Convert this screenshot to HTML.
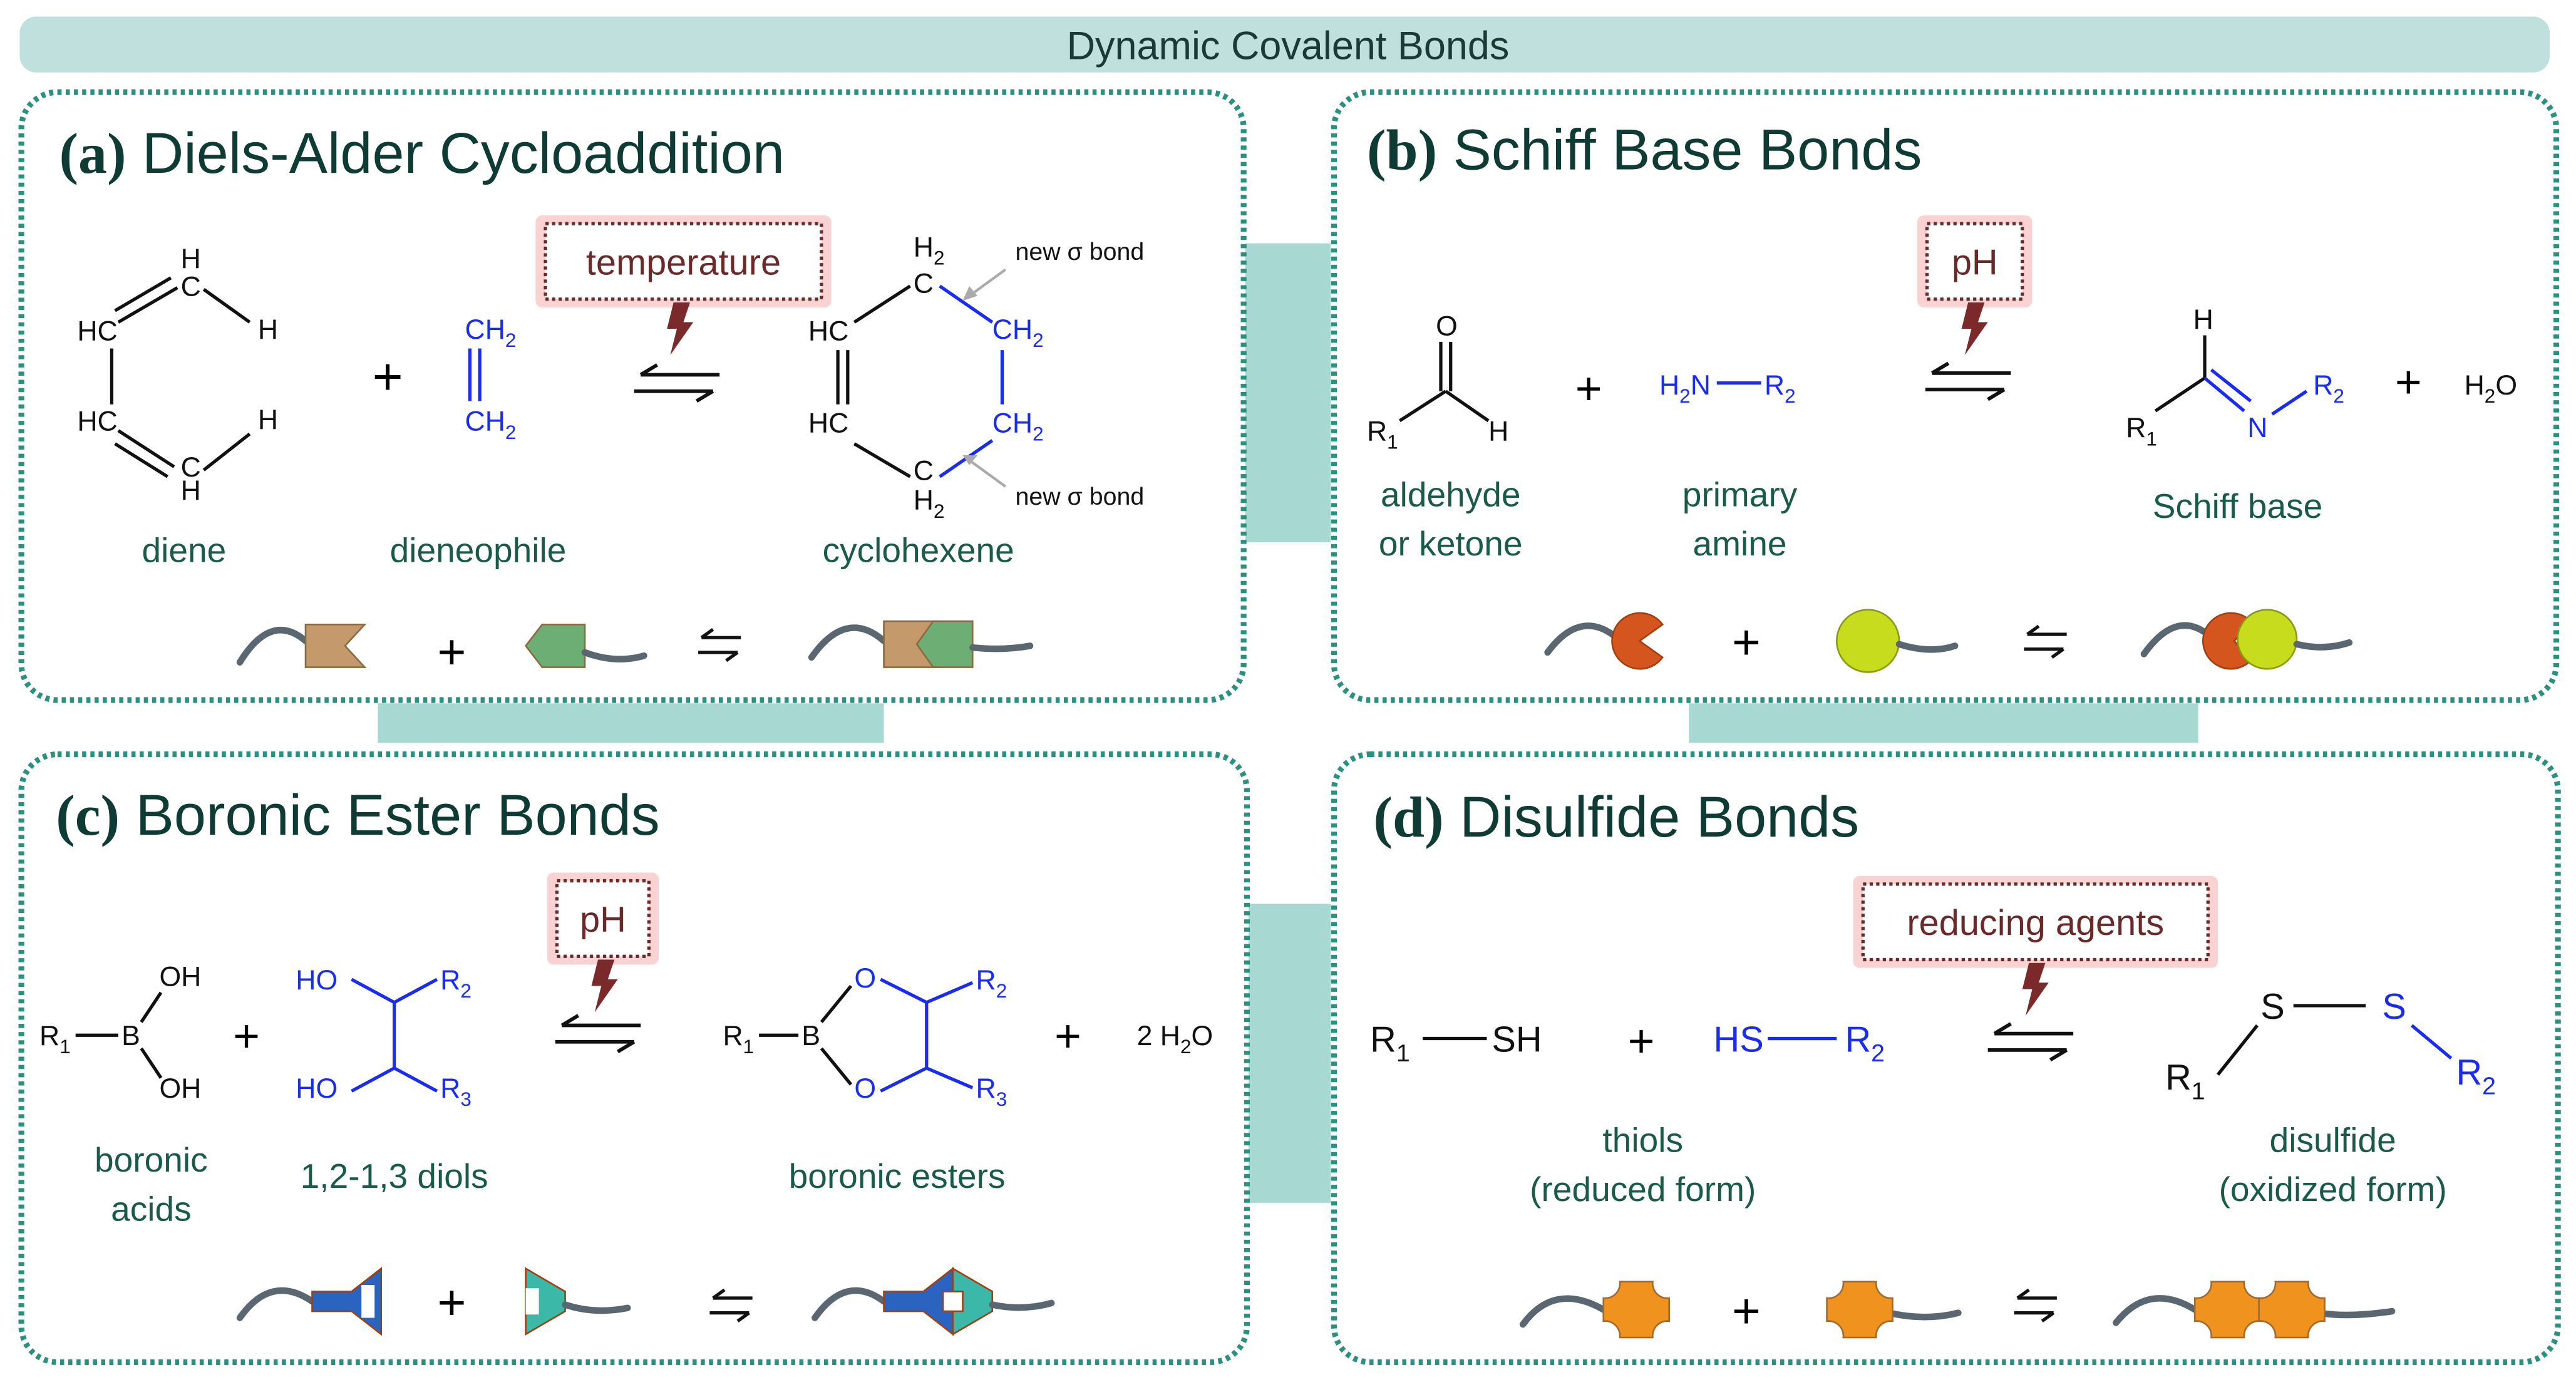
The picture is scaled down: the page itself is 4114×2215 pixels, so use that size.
<!DOCTYPE html>
<html><head><meta charset="utf-8"><style>
html,body{margin:0;padding:0;background:#fff;}
svg{display:block;}
text{font-family:"Liberation Sans",sans-serif;}
.lab{fill:#1a5a48;font-size:21px;text-anchor:middle;}
.ttl{fill:#0e3b33;font-size:35px;}
.ch{font-size:17px;fill:#111;}
.bl{fill:#1a2cf0;}
.bk{stroke:#111;stroke-width:2;fill:none;}
.bb{stroke:#1a2cf0;stroke-width:2;fill:none;}
.pan{fill:#fff;stroke:#2a9080;stroke-width:3.5;stroke-dasharray:2.5 2.5;}
.bar{fill:#a8d8d2;}
.cond{fill:#fff;stroke:#6b2a2a;stroke-width:2;stroke-dasharray:2 2;}
.glow{fill:#f9d3d3;}
.ct{fill:#6b2a2a;font-size:22px;text-anchor:middle;}
.wave{stroke:#5a6670;stroke-width:4;fill:none;stroke-linecap:round;}
.cr{fill:#f0921e;stroke:#a06a30;}
</style></head><body>
<svg width="4114" height="2215" viewBox="0 0 1568 844" xmlns="http://www.w3.org/2000/svg">
<defs>
<g id="eq"><path d="M4 4 H52 M4 4 l10 -6 M0 14 H48 M48 14 l-10 6" stroke="#111" stroke-width="2.2" fill="none"/></g>
<g id="eqs"><path d="M2 0 H26 M2 0 l7 -5 M0 9 H24 M24 9 l-7 5" stroke="#111" stroke-width="2" fill="none"/></g>
<path id="bolt" d="M0 0 L10 0 L6 12 L12 12 L-2 32 L2 16 L-4 16 Z" fill="#7a2a2a"/>
<path id="cross" d="M-10 -17 H10 A9 9 0 0 0 20 -7 V7 A9 9 0 0 0 10 17 H-10 A9 9 0 0 0 -20 7 V-7 A9 9 0 0 0 -10 -17 Z"/>
</defs>
<rect x="12" y="10" width="1540" height="34" rx="10" fill="#bfe0dc"/>
<text x="784" y="36" text-anchor="middle" font-size="24" fill="#1a3a35">Dynamic Covalent Bonds</text>

<rect class="bar" x="758" y="148" width="52" height="182"/>
<rect class="bar" x="760" y="550" width="50" height="182"/>
<rect class="bar" x="230" y="428" width="308" height="24"/>
<rect class="bar" x="1028" y="428" width="310" height="24"/>

<rect class="pan" x="13" y="56" width="744" height="370" rx="22"/>
<rect class="pan" x="812" y="56" width="744" height="370" rx="22"/>
<rect class="pan" x="13" y="459" width="746" height="370" rx="22"/>
<rect class="pan" x="812" y="459" width="745" height="370" rx="22"/>

<!-- (a) -->
<text x="36" y="105" class="ttl"><tspan font-family="Liberation Serif" font-weight="bold">(a)</tspan> Diels-Alder Cycloaddition</text>
<g class="ch">
<text x="110" y="163">H</text><text x="110" y="180">C</text>
<text x="47" y="207">HC</text><text x="157" y="206">H</text>
<text x="47" y="262">HC</text><text x="157" y="261">H</text>
<text x="110" y="290">C</text><text x="110" y="304">H</text>
</g>
<path class="bk" d="M108 175 L72 196 M104 169 L70 189 M124 176 L152 196 M68 212 V246 M72 262 L106 284 M70 270 L102 290 M124 286 L152 264"/>
<text x="236" y="240" font-size="32" text-anchor="middle">+</text>
<text x="283" y="206" class="ch bl">CH<tspan font-size="12" dy="5">2</tspan></text>
<text x="283" y="262" class="ch bl">CH<tspan font-size="12" dy="5">2</tspan></text>
<path class="bb" d="M286 212 V244 M292 212 V244"/>
<rect class="glow" x="326" y="131" width="180" height="56" rx="4"/>
<rect class="cond" x="332" y="136" width="168" height="46"/>
<text x="416" y="167" class="ct">temperature</text>
<use href="#bolt" x="410" y="184"/>
<use href="#eq" x="386" y="224"/>
<g class="ch">
<text x="556" y="156">H<tspan font-size="12" dy="5">2</tspan></text>
<text x="556" y="178">C</text>
<text x="492" y="207">HC</text>
<text x="492" y="263">HC</text>
<text x="556" y="292">C</text>
<text x="556" y="310">H<tspan font-size="12" dy="5">2</tspan></text>
<text x="604" y="206" class="bl">CH<tspan font-size="12" dy="5">2</tspan></text>
<text x="604" y="263" class="bl">CH<tspan font-size="12" dy="5">2</tspan></text>
<text x="618" y="158" font-size="15">new σ bond</text>
<text x="618" y="307" font-size="15">new σ bond</text>
</g>
<path class="bk" d="M554 174 L520 196 M510 213 V246 M516 213 V246 M520 270 L554 290"/>
<path class="bb" d="M572 174 L604 196 M610 213 V246 M572 290 L604 268"/>
<path d="M612 164 L590 180 M612 296 L590 280" stroke="#aaa" stroke-width="1.6"/>
<path d="M586 183 l4 -9 l5 6 Z M586 277 l9 0 l-5 6 Z" fill="#aaa"/>
<text x="112" y="342" class="lab">diene</text>
<text x="291" y="342" class="lab">dieneophile</text>
<text x="559" y="342" class="lab">cyclohexene</text>
<path class="wave" d="M146 403 Q165 372 186 390"/>
<path d="M186 380 H222 L210 393 L222 406 H186 Z" fill="#c49a6c" stroke="#8a6a40"/>
<text x="275" y="407" font-size="30" text-anchor="middle">+</text>
<path d="M320 393 L330 380 H356 V406 H330 Z" fill="#6cae74" stroke="#8a6a40"/>
<path class="wave" d="M356 397 Q375 404 392 399"/>
<use href="#eqs" x="425" y="388"/>
<path class="wave" d="M494 400 Q515 370 538 390"/>
<path d="M538 378 H572 V406 H538 Z" fill="#c49a6c" stroke="#8a6a40"/>
<path d="M558 392 L568 378 H592 V406 H568 Z" fill="#6cae74" stroke="#8a6a40"/>
<path class="wave" d="M592 394 Q610 396 627 393"/>

<!-- (b) -->
<text x="832" y="103" class="ttl"><tspan font-family="Liberation Serif" font-weight="bold">(b)</tspan> Schiff Base Bonds</text>
<g class="ch">
<text x="874" y="204">O</text>
<text x="832" y="268">R<tspan font-size="12" dy="5">1</tspan></text>
<text x="906" y="268">H</text>
<text x="1010" y="240" class="bl">H<tspan font-size="12" dy="5">2</tspan><tspan dy="-5">N</tspan></text>
<text x="1074" y="240" class="bl">R<tspan font-size="12" dy="5">2</tspan></text>
<text x="1335" y="200">H</text>
<text x="1294" y="266">R<tspan font-size="12" dy="5">1</tspan></text>
<text x="1368" y="266" class="bl">N</text>
<text x="1408" y="240" class="bl">R<tspan font-size="12" dy="5">2</tspan></text>
<text x="1500" y="240">H<tspan font-size="12" dy="5">2</tspan><tspan dy="-5">O</tspan></text>
</g>
<path class="bk" d="M877 208 V238 M883 208 V238 M880 238 L852 256 M880 238 L906 256 M1342 204 V230 M1342 230 L1312 250"/>
<path class="bb" d="M1045 233 H1072 M1342 230 L1366 250 M1346 225 L1370 244 M1383 252 L1404 238"/>
<text x="967" y="246" font-size="28" text-anchor="middle">+</text>
<text x="1466" y="242" font-size="28" text-anchor="middle">+</text>
<rect class="glow" x="1167" y="131" width="70" height="56" rx="4"/>
<rect class="cond" x="1173" y="136" width="58" height="46"/>
<text x="1202" y="167" class="ct">pH</text>
<use href="#bolt" x="1198" y="184"/>
<use href="#eq" x="1172" y="223"/>
<text x="883" y="308" class="lab">aldehyde</text>
<text x="883" y="338" class="lab">or ketone</text>
<text x="1059" y="308" class="lab">primary</text>
<text x="1059" y="338" class="lab">amine</text>
<text x="1362" y="315" class="lab">Schiff base</text>
<path class="wave" d="M942 397 Q962 370 984 388"/>
<path d="M1012 380 A17 17 0 1 0 1012 400 L998 390 Z" fill="#d4561e" stroke="#a04010"/>
<text x="1063" y="401" font-size="30" text-anchor="middle">+</text>
<circle cx="1137" cy="390" r="19" fill="#c8dc1e" stroke="#8a9a10"/>
<path class="wave" d="M1156 392 Q1175 398 1190 393"/>
<use href="#eqs" x="1232" y="386"/>
<path class="wave" d="M1305 398 Q1325 370 1345 387"/>
<path d="M1370 378 A17 17 0 1 0 1370 402 L1360 390 Z" fill="#d4561e" stroke="#a04010"/>
<circle cx="1380" cy="389" r="18" fill="#c8dc1e" stroke="#8a9a10"/>
<path class="wave" d="M1398 392 Q1415 396 1430 391"/>

<!-- (c) -->
<text x="34" y="508" class="ttl"><tspan font-family="Liberation Serif" font-weight="bold">(c)</tspan> Boronic Ester Bonds</text>
<g class="ch">
<text x="24" y="636">R<tspan font-size="12" dy="5">1</tspan></text>
<text x="74" y="636">B</text>
<text x="97" y="600">OH</text>
<text x="97" y="668">OH</text>
<text x="180" y="602" class="bl">HO</text>
<text x="180" y="668" class="bl">HO</text>
<text x="268" y="602" class="bl">R<tspan font-size="12" dy="5">2</tspan></text>
<text x="268" y="668" class="bl">R<tspan font-size="12" dy="5">3</tspan></text>
<text x="440" y="636">R<tspan font-size="12" dy="5">1</tspan></text>
<text x="488" y="636">B</text>
<text x="520" y="601" class="bl">O</text>
<text x="520" y="668" class="bl">O</text>
<text x="594" y="602" class="bl">R<tspan font-size="12" dy="5">2</tspan></text>
<text x="594" y="668" class="bl">R<tspan font-size="12" dy="5">3</tspan></text>
<text x="692" y="636">2 H<tspan font-size="12" dy="5">2</tspan><tspan dy="-5">O</tspan></text>
</g>
<path class="bk" d="M46 630 H72 M86 622 L98 604 M86 638 L98 656 M462 630 H486 M500 622 L518 600 M500 638 L518 660"/>
<path class="bb" d="M214 596 L240 610 L266 596 M240 610 V650 M214 664 L240 650 L266 664 M536 596 L564 610 L592 598 M564 610 V650 M536 664 L564 650 L592 662"/>
<text x="150" y="640" font-size="28" text-anchor="middle">+</text>
<text x="650" y="640" font-size="28" text-anchor="middle">+</text>
<rect class="glow" x="333" y="531" width="68" height="56" rx="4"/>
<rect class="cond" x="339" y="536" width="56" height="46"/>
<text x="367" y="567" class="ct">pH</text>
<use href="#bolt" x="364" y="584"/>
<use href="#eq" x="338" y="620"/>
<text x="92" y="713" class="lab">boronic</text>
<text x="92" y="743" class="lab">acids</text>
<text x="240" y="723" class="lab">1,2-1,3 diols</text>
<text x="546" y="723" class="lab">boronic esters</text>
<path class="wave" d="M146 802 Q165 775 190 792"/>
<path d="M190 786 L214 786 L232 772 V812 L214 798 L190 798 Z" fill="#2a64c0" stroke="#a04010"/>
<path d="M228 782 h-8 v20 h8" fill="#fff" stroke="none"/>
<text x="275" y="803" font-size="30" text-anchor="middle">+</text>
<path d="M320 772 L344 786 V798 L320 812 Z" fill="#3cb8a8" stroke="#a04010"/>
<path d="M320 784 h8 v16 h-8 Z" fill="#fff"/>
<path class="wave" d="M344 794 Q362 800 382 796"/>
<use href="#eqs" x="432" y="790"/>
<path class="wave" d="M496 802 Q515 775 538 792"/>
<path d="M538 786 L562 786 L580 772 V812 L562 798 L538 798 Z" fill="#2a64c0" stroke="#a04010"/>
<path d="M580 772 L604 786 V798 L580 812 Z" fill="#3cb8a8" stroke="#a04010"/>
<rect x="574" y="786" width="12" height="12" fill="#fff" stroke="#a04010"/>
<path class="wave" d="M604 794 Q622 798 640 793"/>

<!-- (d) -->
<text x="836" y="509" class="ttl"><tspan font-family="Liberation Serif" font-weight="bold">(d)</tspan> Disulfide Bonds</text>
<g font-size="22" fill="#111">
<text x="834" y="640">R<tspan font-size="15" dy="6">1</tspan></text>
<text x="908" y="640">SH</text>
<text x="1043" y="640" class="bl">HS</text>
<text x="1123" y="640" class="bl">R<tspan font-size="15" dy="6">2</tspan></text>
<text x="1376" y="620">S</text>
<text x="1450" y="620" class="bl">S</text>
<text x="1318" y="663">R<tspan font-size="15" dy="6">1</tspan></text>
<text x="1495" y="660" class="bl">R<tspan font-size="15" dy="6">2</tspan></text>
</g>
<path class="bk" d="M866 632 H905 M1396 612 H1440 M1374 624 L1350 654"/>
<path class="bb" d="M1076 632 H1118 M1468 624 L1492 644"/>
<text x="999" y="643" font-size="28" text-anchor="middle">+</text>
<rect class="glow" x="1128" y="533" width="222" height="56" rx="4"/>
<rect class="cond" x="1134" y="538" width="210" height="46"/>
<text x="1239" y="569" class="ct">reducing agents</text>
<use href="#bolt" x="1235" y="586"/>
<use href="#eq" x="1210" y="625"/>
<text x="1000" y="701" class="lab">thiols</text>
<text x="1000" y="731" class="lab">(reduced form)</text>
<text x="1420" y="701" class="lab">disulfide</text>
<text x="1420" y="731" class="lab">(oxidized form)</text>
<path class="wave" d="M927 806 Q946 780 976 797"/>
<use href="#cross" class="cr" x="996" y="797"/>
<text x="1063" y="808" font-size="30" text-anchor="middle">+</text>
<path class="wave" d="M1150 799 Q1172 804 1192 799"/>
<use href="#cross" class="cr" x="1132" y="797"/>
<use href="#eqs" x="1226" y="790"/>
<path class="wave" d="M1288 805 Q1308 780 1336 797"/>
<path class="wave" d="M1412 799 Q1430 802 1456 798"/>
<use href="#cross" class="cr" x="1356" y="797"/>
<use href="#cross" class="cr" x="1395" y="797"/>
</svg>
</body></html>
